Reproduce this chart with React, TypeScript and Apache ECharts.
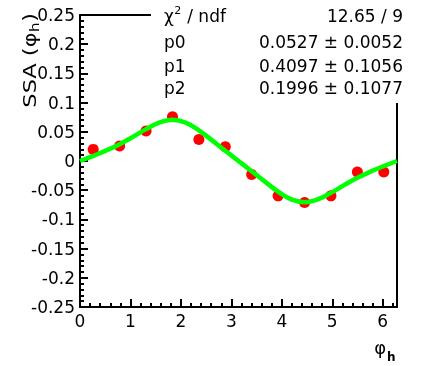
import React, { useEffect, useRef } from 'react';
import * as echarts from 'echarts';

// Measured single-spin asymmetry per phi_h bin
const binCenters = [0.262, 0.785, 1.309, 1.833, 2.356, 2.88, 3.403, 3.927, 4.451, 4.974, 5.498, 6.021];
const asymmetry = [0.0199, 0.0255, 0.0513, 0.0758, 0.037, 0.0243, -0.023, -0.0597, -0.071, -0.0597, -0.019, -0.019];

// Fit curve sampled every pi/12
const fitPhi = [
  0, 0.2618, 0.5236, 0.7854, 1.0472, 1.309, 1.5708, 1.8326, 2.0944, 2.3562, 2.618, 2.8798, 3.1416,
  3.4034, 3.6652, 3.927, 4.1888, 4.4506, 4.7124, 4.9742, 5.236, 5.4978, 5.7596, 6.0214, 6.2832,
];
const fitValues = [
  0, 0.0087, 0.01811, 0.02889, 0.0413, 0.05455, 0.06584, 0.07059, 0.06563, 0.05246, 0.03537, 0.01755, 0,
  -0.01755, -0.03537, -0.05246, -0.06563, -0.07059, -0.06584, -0.05455, -0.0413, -0.02889, -0.01811, -0.0087, 0,
];

// Fit statistics
const chiSquareNdf = '12.65 / 9';
const paramNames = ['p0', 'p1', 'p2'];
const paramValues = ['0.0527 ± 0.0052', '0.4097 ± 0.1056', '0.1996 ± 0.1077'];

const FONT = 'DejaVu Sans';

function textWidth(t: string, size: number, weight = 'normal'): number {
  const ctx = document.createElement('canvas').getContext('2d');
  if (!ctx) return t.length * size * 0.6;
  ctx.font = `${weight} ${size}px "${FONT}"`;
  return ctx.measureText(t).width;
}

function txt(text: string, x: number, y: number, size: number, align: string, weight = 'normal') {
  return {
    type: 'text',
    x,
    y,
    z: 110,
    style: {
      text,
      fontSize: size,
      fontFamily: FONT,
      fontWeight: weight,
      fill: '#000',
      align,
      verticalAlign: 'middle',
      textAlign: align,
      textVerticalAlign: 'middle',
    },
  };
}

const line = () => ({ show: true, onZero: false, lineStyle: { color: '#000000', width: 2 } });
const major = () => ({ show: true, inside: true, length: 8, lineStyle: { color: '#000000', width: 2 } });
const minor = () => ({ show: true, splitNumber: 5, length: 4, lineStyle: { color: '#000000', width: 2 } });
const label = () => ({ show: true, fontSize: 17, fontFamily: FONT, color: '#000', margin: 5 });

export default function App() {
  const ref = useRef<HTMLDivElement>(null);

  useEffect(() => {
    if (!ref.current) return;
    const chart = echarts.init(ref.current, undefined, { renderer: 'svg' });

    // Stats box rows
    const rowY = [16, 42, 66, 88];
    const labelX = 164;
    const valueX = 403;
    const chiW = textWidth('χ', 17);
    const supW = textWidth('2', 11);
    const statTexts: any[] = [
      txt('χ', labelX, rowY[0], 17, 'left'),
      txt('2', labelX + chiW + 0.5, rowY[0] - 6, 11, 'left'),
      txt(' / ndf', labelX + chiW + supW + 1, rowY[0], 17, 'left'),
      txt(chiSquareNdf, valueX, rowY[0], 17, 'right'),
    ];
    paramNames.forEach((n, i) => {
      statTexts.push(txt(n, labelX, rowY[i + 1], 17, 'left'));
      statTexts.push(txt(paramValues[i], valueX, rowY[i + 1], 17, 'right'));
    });

    // Y axis title, rotated, with subscript
    const parenW = textWidth(')', 18);
    const subW = textWidth('h', 12);
    const yTitle = {
      type: 'group',
      x: 30,
      y: 13,
      rotation: Math.PI / 2,
      scaleX: 1.25,
      z: 110,
      children: [
        txt(')', 0, 0, 18, 'right'),
        txt('h', -parenW - 0.5, 5, 12, 'right'),
        txt('SSA (φ', -parenW - subW - 1, 0, 18, 'right'),
      ],
    };

    // X axis title
    const phiW = textWidth('φ', 18);
    const xTitle: any[] = [txt('φ', 386 - phiW, 347, 18, 'left'), txt('h', 387, 357, 12, 'left', 'bold')];

    chart.setOption({
      animation: false,
      grid: { left: 80, right: 24, top: 15, bottom: 59 },
      xAxis: [
        {
          type: 'value',
          position: 'bottom',
          min: 0,
          max: 6.2832,
          interval: 1,
          axisLine: line(),
          axisTick: major(),
          minorTick: minor(),
          splitLine: { show: false },
          axisLabel: {
            ...label(),
            formatter: (v: number) => (Number.isInteger(v) ? String(v) : ''),
          },
        },
        {
          // top frame edge
          type: 'value',
          position: 'top',
          min: 0,
          max: 6.2832,
          axisLine: line(),
          axisTick: { show: false },
          axisLabel: { show: false },
          splitLine: { show: false },
        },
      ],
      yAxis: [
        {
          type: 'value',
          position: 'left',
          min: -0.25,
          max: 0.25,
          interval: 0.05,
          axisLine: line(),
          axisTick: major(),
          minorTick: minor(),
          splitLine: { show: false },
          axisLabel: label(),
        },
        {
          // right frame edge
          type: 'value',
          position: 'right',
          min: -0.25,
          max: 0.25,
          axisLine: line(),
          axisTick: { show: false },
          axisLabel: { show: false },
          splitLine: { show: false },
        },
      ],
      series: [
        {
          type: 'scatter',
          data: binCenters.map((x, i) => [x, asymmetry[i]]),
          symbol: 'circle',
          symbolSize: 11,
          itemStyle: { color: '#ff0000', opacity: 1 },
          z: 2,
        },
        {
          type: 'line',
          data: fitPhi.map((x, i) => [x, fitValues[i]]),
          smooth: 0.4,
          showSymbol: false,
          lineStyle: { color: '#00ff00', width: 4.5 },
          z: 3,
        },
      ],
      graphic: [
        {
          type: 'rect',
          shape: { x: 151, y: 0, width: 262, height: 103 },
          style: { fill: '#ffffff' },
          z: 100,
        },
        ...statTexts,
        yTitle,
        ...xTitle,
      ],
    });

    return () => chart.dispose();
  }, []);

  return <div ref={ref} style={{ position: 'fixed', left: 0, top: 0, width: 421, height: 366 }} />;
}
